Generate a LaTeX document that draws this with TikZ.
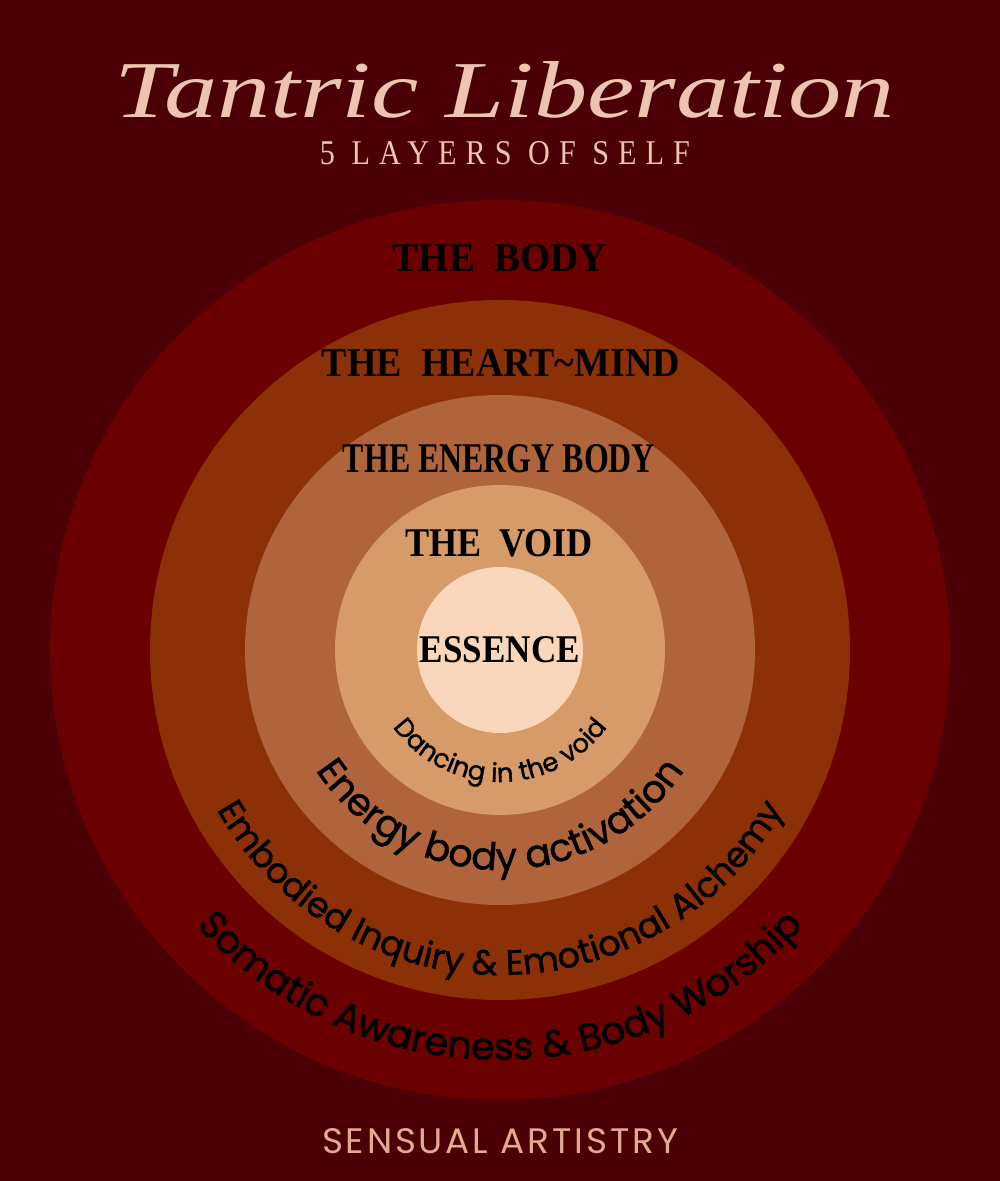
\documentclass[tikz,border=0pt]{standalone}
\usepackage{fontspec}
\usepackage{graphicx}
\setmainfont{Liberation Serif}
\newfontfamily\poppfont{Poppins}[FakeBold=1.2]
\newfontfamily\brandfont{Poppins}[LetterSpace=8]
\newfontfamily\subfont{Liberation Serif}[LetterSpace=30]
\usetikzlibrary{decorations.text}
\definecolor{bgc}{RGB}{74,0,4}
\definecolor{ringA}{RGB}{107,0,0}
\definecolor{ringB}{RGB}{140,48,8}
\definecolor{ringC}{RGB}{176,100,60}
\definecolor{ringD}{RGB}{214,155,104}
\definecolor{ringE}{RGB}{250,215,186}
\definecolor{peach}{RGB}{236,196,176}
\definecolor{peachB}{RGB}{226,170,145}
\begin{document}
\begin{tikzpicture}[x=1pt,y=1pt,
  layer/.style={anchor=base,inner sep=0pt,text=black,font=\bfseries},
  heading/.style={anchor=base,inner sep=0pt,text=peach},
  ringtext/.style={decorate,decoration={text along path,text align=center,text={#1}}}]
\fill[bgc] (0,0) rectangle (1000,1181);
\useasboundingbox (0,0) rectangle (1000,1181);
\coordinate (c) at (500,531);
\fill[ringA] (c) circle[radius=450];
\fill[ringB] (c) circle[radius=350];
\fill[ringC] (c) circle[radius=255];
\fill[ringD] (c) circle[radius=165];
\fill[ringE] (c) circle[radius=83];
% titles
\node[heading] (title) at (505,1063) {\resizebox{780pt}{56pt}{\itshape Tantric Liberation}};
\node[heading] (sub) at (505,1016) {\resizebox{370pt}{23pt}{\subfont 5 LAYERS OF SELF}};
\node[heading,text=peachB] (brand) at (500,28) {\resizebox{356pt}{25pt}{\brandfont SENSUAL ARTISTRY}};
% layer names
\node[layer] (body) at (500,909) {\resizebox{214pt}{27pt}{THE\ \ BODY}};
\node[layer] (heart) at (501,804) {\resizebox{358pt}{27pt}{THE\ \ HEART\textasciitilde MIND}};
\node[layer] (energy) at (499,708) {\resizebox{312pt}{28pt}{THE\ ENERGY\ BODY}};
\node[layer] (void) at (499,624) {\resizebox{188pt}{27pt}{THE\ \ VOID}};
\node[layer] (essence) at (500,518) {\resizebox{160pt}{26pt}{ESSENCE}};
% curved practices
\path[ringtext={|\poppfont\fontsize{26}{26}\selectfont\color{black}|Dancing in the void}] (368,531) arc[start angle=180,end angle=360,radius=132];
\path[ringtext={|\poppfont\fontsize{38}{38}\selectfont\color{black}|Energy body activation}] (280,531) arc[start angle=180,end angle=360,radius=220];
\path[ringtext={|\poppfont\fontsize{35}{35}\selectfont\color{black}|Embodied Inquiry {\&} Emotional Alchemy}] (175,531) arc[start angle=180,end angle=360,radius=325];
\path[ringtext={|\poppfont\fontsize{38}{38}\selectfont\color{black}|Somatic Awareness {\&} Body Worship}] (90,531) arc[start angle=180,end angle=360,radius=410];
\end{tikzpicture}
\end{document}
